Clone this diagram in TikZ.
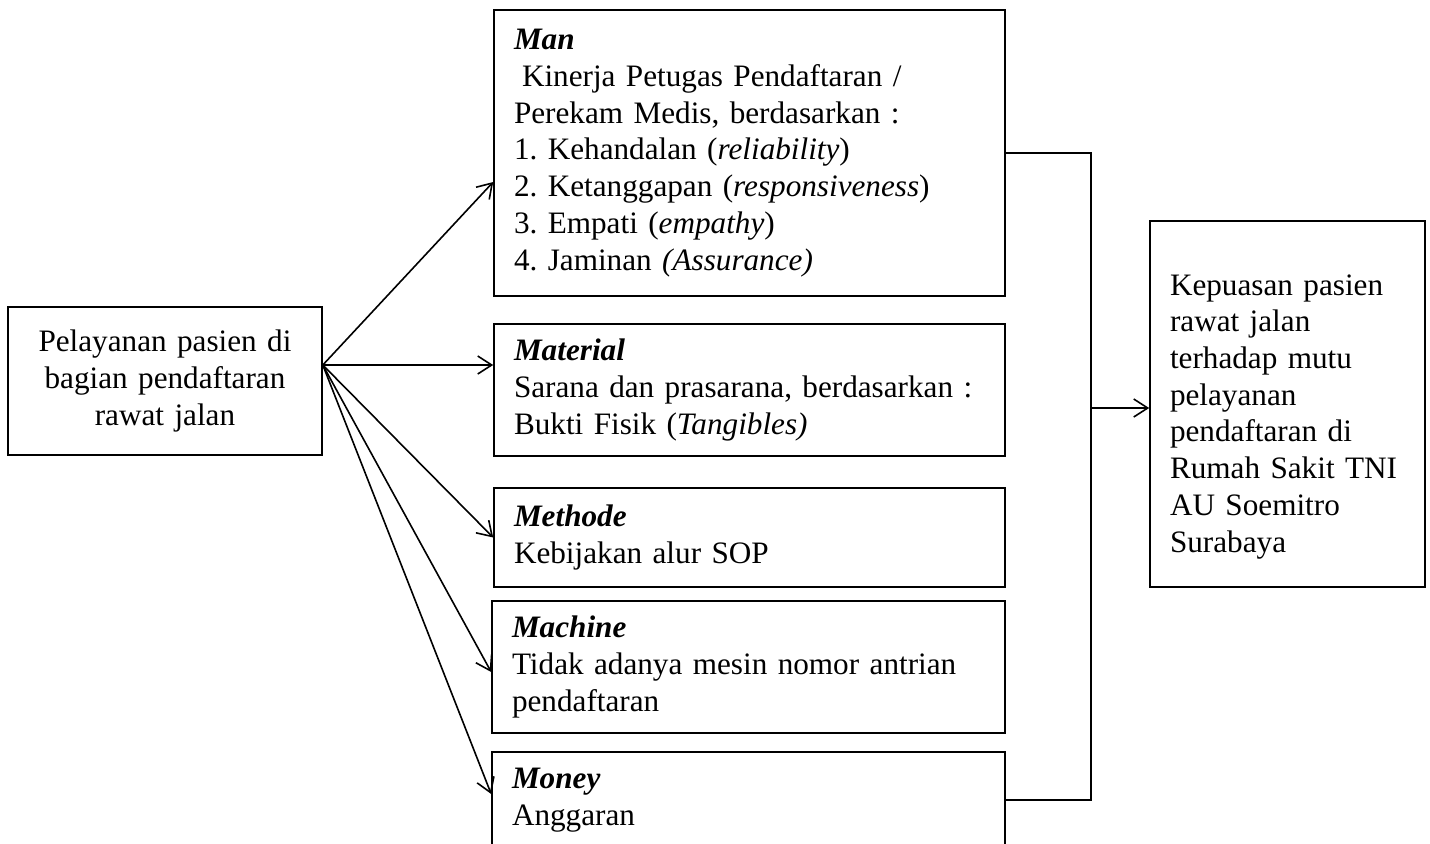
\documentclass[tikz,border=0pt]{standalone}
\usepackage{fontspec}
\setmainfont{Liberation Serif}
\usetikzlibrary{arrows.meta}

\begin{document}
\begin{tikzpicture}[x=0.5pt,y=-0.5pt,
    box/.style={draw,line width=0.8pt,align=left,inner xsep=10pt,inner ysep=0pt,
      font=\fontsize{15.6}{18.35}\selectfont\frenchspacing},
    conn/.style={line width=0.8pt},
    arr/.style={conn,-{Straight Barb[length=7pt,width=9pt]}}]
        \useasboundingbox (0,0) rectangle (1430,843);
        \clip (0,0) rectangle (1430,843);

        \node[box,align=center,text width=137pt,minimum height=74pt] (src) at (165,381)
            {Pelayanan pasien di\\ bagian pendaftaran\\ rawat jalan};

        \node[box,text width=235.5pt,minimum height=143pt] (man) at (749.5,153)
            {\textbf{\textit{Man}}\\ \hspace*{4pt}Kinerja Petugas Pendaftaran /\\ Perekam Medis, berdasarkan :\\
             1. Kehandalan (\textit{reliability})\\ 2. Ketanggapan (\textit{responsiveness})\\
             3. Empati (\textit{empathy})\\ 4. Jaminan \textit{(Assurance)}};
        \node[box,text width=235.5pt,minimum height=66pt] (material) at (749.5,390)
            {\textbf{\textit{Material}}\\ Sarana dan prasarana, berdasarkan :\\ Bukti Fisik (\textit{Tangibles)}};
        \node[box,text width=235.5pt,minimum height=49.5pt] (methode) at (749.5,537.5)
            {\textbf{\textit{Methode}}\\ Kebijakan alur SOP};
        \node[box,text width=236.5pt,minimum height=66pt] (machine) at (748.5,667)
            {\textbf{\textit{Machine}}\\ Tidak adanya mesin nomor antrian\\ pendaftaran};
        \node[box,text width=236.5pt,minimum height=48pt] (money) at (748.5,800)
            {\textbf{\textit{Money}}\\ Anggaran};

        \node[box,text width=117.5pt,minimum height=183pt] (goal) at (1287.5,404)
            {\rule{0pt}{23pt}Kepuasan pasien\\ rawat jalan\\ terhadap mutu\\ pelayanan\\ pendaftaran di\\
             Rumah Sakit TNI\\ AU Soemitro\\ Surabaya};

        \coordinate (hub) at ([yshift=8pt]src.east);
        \coordinate (bus) at (1091,408);

        \draw[arr] (hub) -- ([yshift=-14.5pt]man.west);
        \draw[arr] (hub) -- ([yshift=12.5pt]material.west);
        \draw[arr] (hub) -- (methode.west);
        \draw[arr] (hub) -- ([yshift=-2.5pt]machine.west);
        \draw[arr] (hub) -- ([yshift=3pt]money.west);

        \draw[conn] (man.east) -| (bus) |- (money.east);
        \draw[arr] (bus) -- (goal.west |- bus);
\end{tikzpicture}
\end{document}
